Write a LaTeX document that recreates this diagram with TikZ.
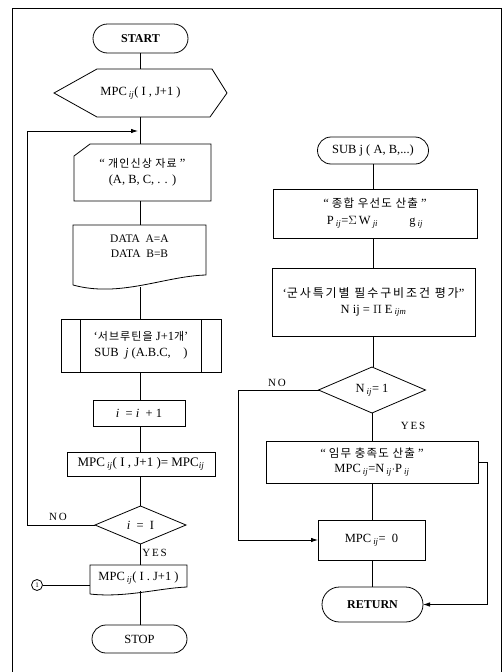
\documentclass[tikz,border=0pt]{standalone}
\usepackage{fontspec}
\setmainfont{Liberation Serif}
\newfontfamily\kr[LetterSpace=10]{Noto Sans CJK KR}
\newfontfamily\krw[LetterSpace=16]{Noto Sans CJK KR}
\usetikzlibrary{arrows.meta,shapes.geometric,shapes.misc}
\newcommand{\ijs}{\textsubscript{\itshape ij}}
\newcommand{\jis}{\textsubscript{\itshape ji}}
\begin{document}
\begin{tikzpicture}[x=1pt,y=-1pt,line width=0.8pt,
 base/.style={inner sep=0pt,outer sep=0pt,align=center,font=\fontsize{12.5}{15}\selectfont},
 box/.style={base,draw,rectangle},
 ghost/.style={base,rectangle},
 term/.style={base,draw,rounded rectangle},
 dec/.style={base,draw,diamond},
 lbl/.style={inner sep=0pt,font=\fontsize{11}{13}\selectfont},
 arr/.style={-{Latex[length=7pt,width=4.5pt]}}]
\useasboundingbox (0,0) rectangle (503,672);
% frame
\draw (12,672) -- (12,8) -- (501,8) -- (501,672);

% ---------------- left column ----------------
\node[term,minimum width=95,minimum height=29,font=\fontsize{12}{14}\selectfont\bfseries] (start) at (140.5,38.5) {START};
\node[ghost,minimum width=173,minimum height=48] (hex) at (140.5,93) {MPC\,\ijs( I , J+1 )};
\draw (54,93) -- (97,69) -- (212,69) -- (227,93) -- (210,117) -- (97,117) -- cycle;
\node[ghost,minimum width=137,minimum height=57] (card) at (142.5,172.5) {“ {\kr\fontsize{11}{13}\selectfont 개인신상 자료} ”\\[1pt](A, B, C, . . )};
\draw (74,156) -- (90,144) -- (211,144) -- (211,201) -- (74,201) -- cycle;
\node[ghost,minimum width=133,minimum height=62,font=\fontsize{11.5}{14}\selectfont] (data) at (139.5,256) {DATA\ \ A=A\\[1pt]DATA\ \ B=B\\[6pt]};
\draw (73,285) -- (73,225) -- (206,225) -- (206,275) .. controls (165,276) and (120,298) .. (73,285);
\node[box,minimum width=160,minimum height=53] (sub) at (141,345.5) {‘{\kr\fontsize{11}{13}\selectfont 서브루틴을} J+1{\kr\fontsize{11}{13}\selectfont 개}’\\[1pt]SUB \ {\itshape j} (A.B.C, \ \ \ )};
\draw ([xshift=19pt]sub.north west) -- ([xshift=19pt]sub.south west);
\draw ([xshift=-20pt]sub.north east) -- ([xshift=-20pt]sub.south east);
\node[box,minimum width=92,minimum height=26] (inc) at (139,413) {{\itshape i} \ = {\itshape i} \ + 1};
\node[box,minimum width=148,minimum height=24,font=\fontsize{13}{15}\selectfont] (asg) at (141,464) {MPC\,\ijs( I , J+1 )= MPC\ijs};
\node[dec,minimum width=91,minimum height=38] (dia1) at (140.5,525) {{\itshape i} \ = \ I};
\node[ghost,minimum width=97,minimum height=26] (out) at (138.5,578) {MPC\,\ijs( I . J+1 )};
\draw (90,594) -- (90,565) -- (187,565) -- (187,587) .. controls (160,588) and (125,598) .. (90,594);
\node[term,minimum width=95,minimum height=28] (stop) at (139.5,639) {STOP};
\node[draw,circle,inner sep=0pt,minimum size=11,font=\fontsize{7}{8}\selectfont] (circ) at (37,585) {1};

\draw (start.south) -- (start.south |- hex.north);
\draw (hex.south) -- (hex.south |- card.north);
\draw (card.south -| hex.south) -- (hex.south |- data.north);
\draw (data.south -| hex.south) -- (hex.south |- sub.north);
\draw (sub.south -| hex.south) -- (hex.south |- inc.north);
\draw (inc.south -| hex.south) -- (hex.south |- asg.north);
\draw (asg.south -| hex.south) -- (dia1.north);
\draw (dia1.south) -- (dia1.south |- out.north);
\draw (out.south -| hex.south) -- (hex.south |- stop.north);
\coordinate (loopx) at (27,0);
\coordinate (merge) at (138,131);
\draw[arr] (dia1.west) -- (dia1.west -| loopx) |- (merge);
\draw (circ.east) -- (circ.east -| out.west);
\node[lbl] (no1) at (58,517) {N\,O};
\node[lbl,anchor=west] (yes1) at (142,553) {Y\,E\,S};

% ---------------- right column ----------------
\node[term,minimum width=111,minimum height=27] (sub2) at (373,150.5) {SUB j ( A, B,...)};
\node[box,minimum width=204,minimum height=49] (calc1) at (375,213.5) {“ {\kr\fontsize{11.5}{13}\selectfont 종합 우선도 산출} ”\\[2pt]P\,\ijs=$\Sigma$\,W\,\jis \qquad\ \ g\,\ijs};
\node[box,minimum width=203,minimum height=68] (calc2) at (373.5,302) {‘{\krw\fontsize{12}{13}\selectfont 군사특기별 필수구비조건 평가}”\\[1pt]N ij = $\Pi$ E\,\textsubscript{\itshape ijm}};
\node[dec,minimum width=107,minimum height=46] (dia2) at (372,390) {N\,\ijs = 1};
\node[box,minimum width=212,minimum height=42] (calc3) at (372,462) {“ {\kr\fontsize{11.5}{13}\selectfont 임무 충족도 산출} ”\\[0pt]MPC\,\ijs=N\,\ijs$\cdot$P\,\ijs};
\node[box,minimum width=107,minimum height=40] (mpc0) at (371.5,540) {MPC\,\ijs= \ 0};
\node[term,minimum width=101,minimum height=35,font=\fontsize{12}{14}\selectfont\bfseries] (ret) at (372.5,604.5) {RETURN};

\draw (sub2.south) -- (sub2.south |- calc1.north);
\draw (calc1.south -| sub2.south) -- (sub2.south |- calc2.north);
\draw (calc2.south -| sub2.south) -- (sub2.south |- dia2.north);
\draw (dia2.south) -- (dia2.south |- calc3.north);
\draw (calc3.south) -- (mpc0.north -| calc3.south);
\draw (mpc0.south -| calc3.south) -- (calc3.south |- ret.north);
\coordinate (nox) at (238,0);
\draw[arr] (dia2.west) -- (dia2.west -| nox) |- (mpc0.west);
\coordinate (rx) at (487,0);
\draw[arr] (calc3.east) -- (calc3.east -| rx) |- (ret.east);
\node[lbl] (no2) at (277,383) {N\,O};
\node[lbl] (yes2) at (413,426) {Y\,E\,S};
\end{tikzpicture}
\end{document}
